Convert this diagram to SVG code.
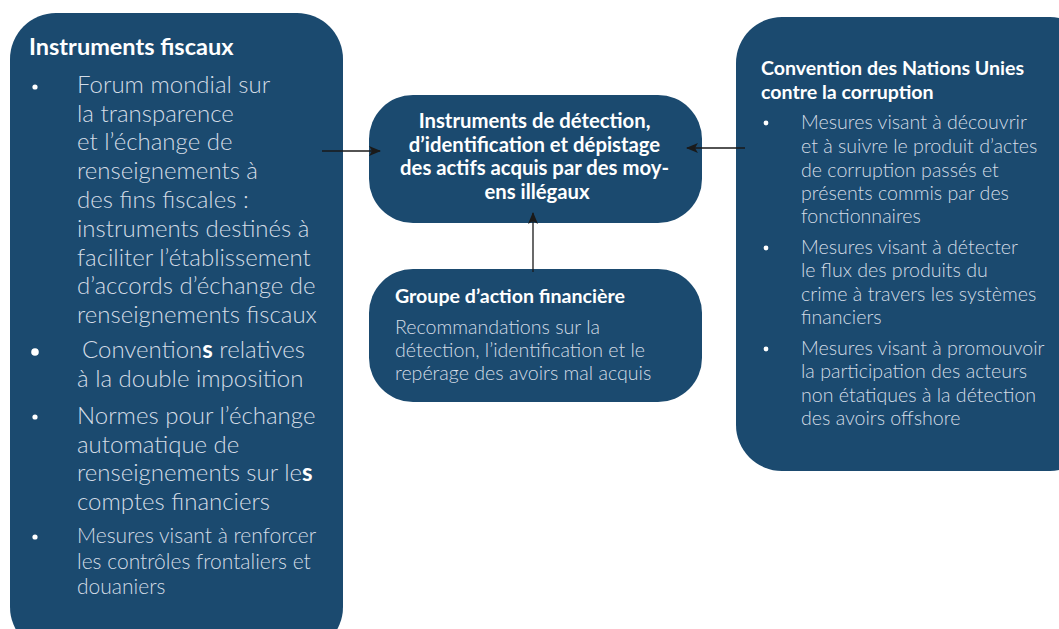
<svg xmlns="http://www.w3.org/2000/svg" width="1059" height="629" viewBox="0 0 1059 629">
  <style>
    .box { fill: #1b4a6f; }
    .ttl { font-family: Lato, "Open Sans", "Liberation Sans", sans-serif; font-weight: 700; fill: #ffffff; }
    .txt { font-family: Lato, "Open Sans", "Liberation Sans", sans-serif; font-weight: 300; fill: #d3dce6; }
    .b { font-weight: 700; fill: #ffffff; }
    .dot { fill: #ffffff; }
    .link { stroke: #1a1a1a; stroke-width: 1.3; fill: none; marker-end: url(#head); }
  </style>
  <defs>
    <marker id="head" viewBox="0 0 12 10" refX="11" refY="5" markerWidth="12" markerHeight="10" markerUnits="userSpaceOnUse" orient="auto">
      <path d="M0,0 L12,5 L0,10 L3,5 Z" fill="#1a1a1a"/>
    </marker>
  </defs>
  <rect width="1059" height="629" fill="#ffffff"/>

  <!-- Left: fiscal instruments -->
  <g id="fiscal">
    <rect class="box" x="10" y="13" width="333" height="640" rx="46"/>
    <text class="ttl" x="29" y="55" font-size="23.5">Instruments fiscaux</text>
    <circle class="dot" cx="35" cy="87" r="2.6"/>
    <text class="txt" font-size="24">
      <tspan x="77" y="93">Forum mondial sur</tspan>
      <tspan x="77" y="122">la transparence</tspan>
      <tspan x="77" y="150">et l’échange de</tspan>
      <tspan x="77" y="179">renseignements à</tspan>
      <tspan x="77" y="208">des fins fiscales :</tspan>
      <tspan x="77" y="237">instruments destinés à</tspan>
      <tspan x="77" y="266">faciliter l’établissement</tspan>
      <tspan x="77" y="294">d’accords d’échange de</tspan>
      <tspan x="77" y="323">renseignements fiscaux</tspan>
    </text>
    <circle class="dot" cx="35" cy="352" r="3.8"/>
    <text class="txt" font-size="24">
      <tspan x="82" y="358">Convention<tspan class="b">s</tspan> relatives</tspan>
      <tspan x="77" y="387">à la double imposition</tspan>
    </text>
    <circle class="dot" cx="35" cy="417" r="2.6"/>
    <text class="txt" font-size="24">
      <tspan x="77" y="424">Normes pour l’échange</tspan>
      <tspan x="77" y="453">automatique de</tspan>
      <tspan x="77" y="481">renseignements sur le<tspan class="b">s</tspan></tspan>
      <tspan x="77" y="510">comptes financiers</tspan>
    </text>
    <circle class="dot" cx="35" cy="537" r="2.6"/>
    <text class="txt" font-size="21">
      <tspan x="77" y="543">Mesures visant à renforcer</tspan>
      <tspan x="77" y="569">les contrôles frontaliers et</tspan>
      <tspan x="77" y="594">douaniers</tspan>
    </text>
  </g>

  <!-- Centre: detection instruments -->
  <g id="detection">
    <rect class="box" x="369" y="95" width="333" height="128" rx="44"/>
    <text class="ttl" font-size="20.3" text-anchor="middle">
      <tspan x="537" y="128">Instruments de détection,</tspan>
      <tspan x="537" y="152">d’identification et dépistage</tspan>
      <tspan x="537" y="175">des actifs acquis par des moy-</tspan>
      <tspan x="537" y="199">ens illégaux</tspan>
    </text>
  </g>

  <!-- Centre bottom: FATF -->
  <g id="gafi">
    <rect class="box" x="369" y="269" width="333" height="133" rx="44"/>
    <text class="ttl" x="395" y="303" font-size="19.6">Groupe d’action financière</text>
    <text class="txt" font-size="19.6">
      <tspan x="395" y="334">Recommandations sur la</tspan>
      <tspan x="395" y="357">détection, l’identification et le</tspan>
      <tspan x="395" y="380">repérage des avoirs mal acquis</tspan>
    </text>
  </g>

  <!-- Right: UN convention against corruption -->
  <g id="cnucc">
    <rect class="box" x="736" y="17" width="360" height="454" rx="46"/>
    <text class="ttl" font-size="19.6">
      <tspan x="761" y="75">Convention des Nations Unies</tspan>
      <tspan x="761" y="99">contre la corruption</tspan>
    </text>
    <circle class="dot" cx="766" cy="123" r="2.4"/>
    <text class="txt" font-size="19.6">
      <tspan x="801" y="129">Mesures visant à découvrir</tspan>
      <tspan x="801" y="153">et à suivre le produit d’actes</tspan>
      <tspan x="801" y="177">de corruption passés et</tspan>
      <tspan x="801" y="200">présents commis par des</tspan>
      <tspan x="801" y="223">fonctionnaires</tspan>
    </text>
    <circle class="dot" cx="766" cy="248" r="2.4"/>
    <text class="txt" font-size="19.6">
      <tspan x="801" y="254">Mesures visant à détecter</tspan>
      <tspan x="801" y="277">le flux des produits du</tspan>
      <tspan x="801" y="301">crime à travers les systèmes</tspan>
      <tspan x="801" y="324">financiers</tspan>
    </text>
    <circle class="dot" cx="766" cy="349" r="2.4"/>
    <text class="txt" font-size="19.6">
      <tspan x="801" y="355">Mesures visant à promouvoir</tspan>
      <tspan x="801" y="378">la participation des acteurs</tspan>
      <tspan x="801" y="402">non étatiques à la détection</tspan>
      <tspan x="801" y="425">des avoirs offshore</tspan>
    </text>
  </g>

  <!-- Connectors -->
  <g id="connectors">
    <line class="link" x1="322" y1="151" x2="380" y2="151"/>
    <line class="link" x1="745" y1="148" x2="687" y2="148"/>
    <line class="link" x1="533" y1="272" x2="533" y2="213"/>
  </g>
</svg>
